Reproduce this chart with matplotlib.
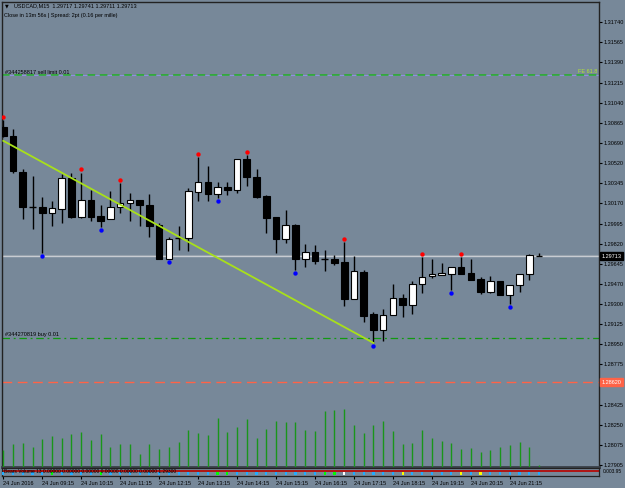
import numpy as np
import matplotlib.pyplot as plt

# ---------------- data ----------------
symbol = "USDCAD,M15"
last_ohlc = "1.29717 1.29741 1.29711 1.29713"

opens = [1.30834, 1.30753, 1.30441, 1.30140, 1.30138, 1.30087, 1.30121, 1.30390, 1.30052, 1.30199,
         1.30061, 1.30035, 1.30138, 1.30173, 1.30199, 1.30156, 1.29983, 1.29688, 1.29870, 1.29866,
         1.30268, 1.30355, 1.30251, 1.30312, 1.30286, 1.30554, 1.30398, 1.30234, 1.30052, 1.29861,
         1.29983, 1.29688, 1.29749, 1.29690, 1.29688, 1.29662, 1.29342, 1.29576, 1.29212, 1.29074,
         1.29203, 1.29351, 1.29290, 1.29472, 1.29541, 1.29550, 1.29558, 1.29619, 1.29567, 1.29515,
         1.29403, 1.29498, 1.29377, 1.29463, 1.29558, 1.29717]
highs = [1.30892, 1.30814, 1.30467, 1.30407, 1.30225, 1.30190, 1.30424, 1.30433, 1.30436, 1.30286,
         1.30156, 1.30277, 1.30346, 1.30260, 1.30199, 1.30251, 1.30000, 1.29879, 1.29974, 1.30303,
         1.30571, 1.30493, 1.30355, 1.30355, 1.30554, 1.30589, 1.30467, 1.30242, 1.30052, 1.30113,
         1.29991, 1.29818, 1.29810, 1.29766, 1.29723, 1.29835, 1.29714, 1.29593, 1.29229, 1.29255,
         1.29472, 1.29385, 1.29498, 1.29706, 1.29688, 1.29654, 1.29619, 1.29706, 1.29688, 1.29532,
         1.29541, 1.29498, 1.29463, 1.29558, 1.29732, 1.29741]
lows = [1.30744, 1.30433, 1.30035, 1.29948, 1.29740, 1.29974, 1.30000, 1.30043, 1.30043, 1.30017,
        1.29965, 1.30035, 1.30087, 1.30017, 1.29974, 1.29879, 1.29688, 1.29688, 1.29766, 1.29758,
        1.30190, 1.30190, 1.30216, 1.30242, 1.30260, 1.30320, 1.30216, 1.29913, 1.29740, 1.29827,
        1.29593, 1.29619, 1.29645, 1.29584, 1.29636, 1.29281, 1.29342, 1.29143, 1.28961, 1.28978,
        1.29203, 1.29186, 1.29212, 1.29394, 1.29524, 1.29550, 1.29420, 1.29558, 1.29506, 1.29385,
        1.29394, 1.29377, 1.29299, 1.29403, 1.29506, 1.29711]
closes = [1.30753, 1.30450, 1.30138, 1.30136, 1.30087, 1.30130, 1.30390, 1.30052, 1.30199, 1.30052,
          1.30017, 1.30138, 1.30173, 1.30199, 1.30156, 1.29974, 1.29688, 1.29861, 1.29866, 1.30277,
          1.30355, 1.30251, 1.30312, 1.30286, 1.30554, 1.30398, 1.30225, 1.30043, 1.29861, 1.29983,
          1.29688, 1.29749, 1.29671, 1.29686, 1.29654, 1.29342, 1.29584, 1.29195, 1.29074, 1.29203,
          1.29351, 1.29290, 1.29472, 1.29532, 1.29558, 1.29567, 1.29619, 1.29558, 1.29506, 1.29403,
          1.29498, 1.29377, 1.29463, 1.29558, 1.29723, 1.29713]
volumes = [276, 391, 409, 340, 478, 517, 488, 564, 598, 460,
           564, 340, 391, 379, 219, 379, 298, 340, 426, 621,
           569, 540, 840, 591, 684, 810, 495, 650, 781, 759,
           759, 633, 615, 960, 978, 995, 719, 581, 719, 781,
           609, 391, 409, 621, 483, 443, 402, 298, 316, 247,
           276, 328, 374, 414, 328, 29]

up_fractals = [0, 8, 12, 20, 25, 35, 43, 47]
down_fractals = [4, 10, 17, 22, 30, 38, 46, 52]

trend_start = 1.30711

sell_limit = 1.31281
buy_level = 1.29005
red_level = 1.28620
bid = 1.29713

price_ticks = [1.31740, 1.31565, 1.31390, 1.31215, 1.31040, 1.30865, 1.30690, 1.30520,
               1.30345, 1.30170, 1.29995, 1.29820, 1.29645, 1.29470, 1.29300, 1.29125,
               1.28950, 1.28775, 1.28600, 1.28425, 1.28250, 1.28075, 1.27905]
hidden_ticks = [1.28600]  # covered by the red price box
time_labels = ["24 Jun 2016", "24 Jun 09:15", "24 Jun 10:15", "24 Jun 11:15", "24 Jun 12:15",
               "24 Jun 13:15", "24 Jun 14:15", "24 Jun 15:15", "24 Jun 16:15", "24 Jun 17:15",
               "24 Jun 18:15", "24 Jun 19:15", "24 Jun 20:15", "24 Jun 21:15"]
time_pos = [0, 4, 8, 12, 16, 20, 24, 28, 32, 36, 40, 44, 48, 52]

# subwindow dot states: c=cyan g=green y=yellow w=white
sub_state = ["c"] * 56
for i in [5, 10, 22, 23, 33, 34]:
    sub_state[i] = "g"
for i in [41, 47, 49]:
    sub_state[i] = "y"
sub_state[35] = "w"

# ---------------- figure ----------------
bg = "#778899"
plt.rcParams["font.family"] = ["Liberation Sans", "DejaVu Sans"]

fig = plt.figure(figsize=(6.25, 4.88), dpi=100, facecolor=bg)
ax = fig.add_axes([2 / 625, 21.5 / 488, 597 / 625, 464.5 / 488], facecolor=bg)
xlim = (-0.133, 61.16)
ax.set_xlim(xlim)
ax.set_ylim(1.27891, 1.31913)

x = np.arange(len(opens))

# volumes in the bottom of the main window
axv = ax.twinx()
axv.set_ylim(0, 8000)
axv.set_yticks([])
for s in axv.spines.values():
    s.set_visible(False)
axv.vlines(x, 0, volumes, colors="#1a961a", lw=1.0)

# horizontal levels
ax.axhline(sell_limit, color="#8f8fe0", lw=0.8, zorder=1)
ax.axhline(sell_limit, color="#22b022", lw=1.1, dashes=(5, 3), zorder=1)
ax.axhline(buy_level, color="#119911", lw=0.9, dashes=(6, 3, 1.5, 3), zorder=1)
ax.axhline(red_level, color="#ff6347", lw=1.0, dashes=(7, 4), zorder=1)
ax.axhline(bid + 0.00009, color="#8c98a4", lw=0.9, zorder=1)
ax.axhline(bid, color="#c8ccd2", lw=1.0, zorder=1)

# candles
for i in x:
    o, h, l, c = opens[i], highs[i], lows[i], closes[i]
    ax.vlines(i, l, h, color="black", lw=1.0, zorder=3)
    body = abs(c - o)
    fill = "white" if c >= o else "black"
    if body < 0.00006:
        ax.hlines(o, i - 0.34, i + 0.34, color="black", lw=1.0, zorder=4)
    else:
        ax.bar(i, body, bottom=min(o, c), width=0.68, color=fill,
               edgecolor="black", lw=0.8, zorder=4)

# fractals
ax.scatter(up_fractals, [highs[i] + 0.00028 for i in up_fractals], s=10, color="#ff0000", zorder=5, lw=0)
ax.scatter(down_fractals, [lows[i] - 0.00028 for i in down_fractals], s=10, color="#0000ff", zorder=5, lw=0)

# trend line
ax.plot([0, 38], [trend_start, lows[38]], color="#a8e01a", lw=1.3, zorder=6)

# axes styling
for s in ax.spines.values():
    s.set_color("#222222")
    s.set_linewidth(1.0)
ax.spines["bottom"].set_linewidth(2.0)
ax.spines["bottom"].set_color("#3a4048")
ax.yaxis.tick_right()
ax.set_yticks(price_ticks)
ax.set_yticklabels(["" if p in hidden_ticks else f"{p:.5f}" for p in price_ticks])
ax.tick_params(axis="y", labelsize=4, length=2, pad=1.5, colors="black")
ax.set_xticks([])

# price boxes
ytr = ax.get_yaxis_transform()
ax.text(1.004, bid, f"{bid:.5f}", transform=ytr, fontsize=4, color="white", va="center", ha="left",
        bbox=dict(boxstyle="square,pad=0.25", fc="black", ec="black"), zorder=10, clip_on=False)
ax.text(1.004, red_level, f"{red_level:.5f}", transform=ytr, fontsize=4, color="white", va="center",
        ha="left", bbox=dict(boxstyle="square,pad=0.25", fc="#ff6347", ec="#ff6347"), zorder=10, clip_on=False)

# labels in chart
fig.text(5 / 625, 1 - 5.5 / 488, "\u25bc", fontsize=3.5, color="black", va="center", family=["DejaVu Sans"])
fig.text(14 / 625, 1 - 5.5 / 488, f"{symbol}  {last_ohlc}", fontsize=4, color="black", va="center")
fig.text(4 / 625, 1 - 15 / 488, "Close in 13m 56s | Spread: 2pt (0.16 per mille)", fontsize=4,
         color="black", va="center")
fig.text(5 / 625, 1 - 72 / 488, "#344258817 sell limit 0.01", fontsize=4, color="black", va="center")
fig.text(5 / 625, 1 - 334.5 / 488, "#344270819 buy 0.01", fontsize=4, color="black", va="center")
fig.text(578 / 625, 1 - 71.5 / 488, "FE 61.8", fontsize=4, color="#b4e632", va="center")

# subwindow
axs = fig.add_axes([2 / 625, 12 / 488, 597 / 625, 8.5 / 488], facecolor=bg)
axs.set_xlim(xlim)
axs.set_ylim(0, 1)
axs.axhline(0.6, color="#b01414", lw=1.4)
cmap = {"c": "#22aaff", "g": "#00ff00", "y": "#ffff00", "w": "#ffffff"}
axs.scatter(x, [0.3] * len(x), s=2.5, marker="s", lw=0, c=[cmap[k] for k in sub_state], zorder=3)
axs.text(0.004, 0.55, "Bears Volume 13 0.00000 0.00000 0.00000 0.00000 0.00000 0.00000 1.29300",
         transform=axs.transAxes, fontsize=3.5, color="black", va="center")
for s in axs.spines.values():
    s.set_color("#222222")
    s.set_linewidth(0.9)
axs.set_yticks([])
axs.set_xticks(time_pos)
axs.set_xticklabels(time_labels, ha="left")
axs.tick_params(axis="x", labelsize=4, length=2, pad=1.5, colors="black")
axs.text(1.006, 0.5, "0.003.95", transform=axs.transAxes, fontsize=3.5, color="black", va="center")

fig.savefig("out.png", dpi=100, facecolor=bg)
